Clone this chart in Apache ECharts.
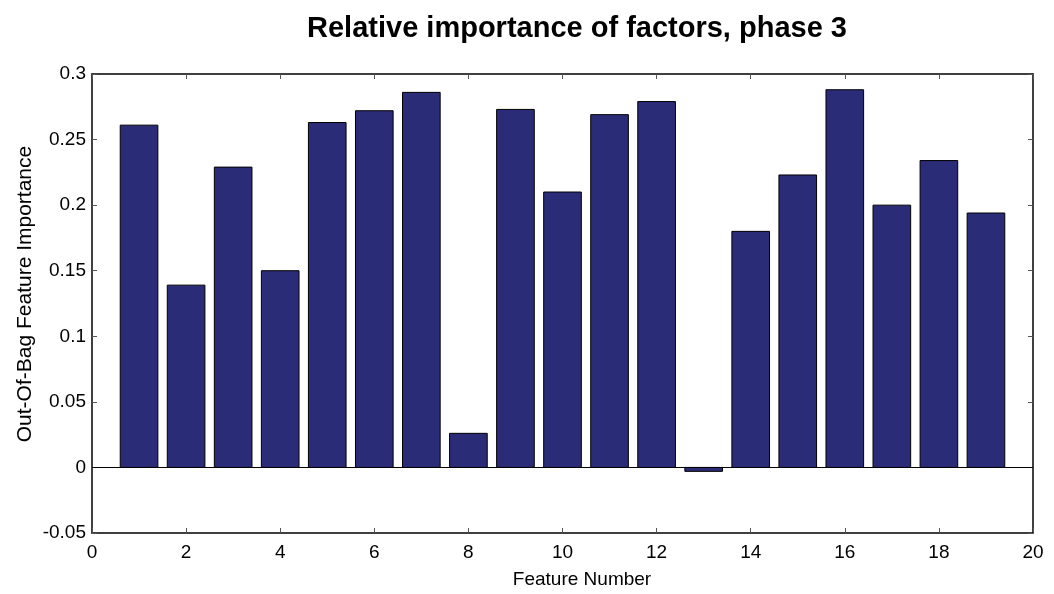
<!DOCTYPE html>
<html>
<head>
<meta charset="utf-8">
<title>Relative importance of factors, phase 3</title>
<script src="https://cdn.jsdelivr.net/npm/echarts@6/dist/echarts.min.js"></script>
<style>
  html, body { margin: 0; padding: 0; background: #fff; }
  #chart { width: 1054px; height: 594px; }
</style>
</head>
<body>
<div id="chart"></div>
<script>
// Feature numbers and their out-of-bag importance scores
const features = [1, 2, 3, 4, 5, 6, 7, 8, 9, 10, 11, 12, 13, 14, 15, 16, 17, 18, 19];
const importance = [0.261, 0.139, 0.229, 0.150, 0.263, 0.272, 0.286, 0.026, 0.273, 0.210,
                    0.269, 0.279, -0.003, 0.180, 0.223, 0.288, 0.200, 0.234, 0.194];

// Axis ranges
const xRange = { min: 0, max: 20, interval: 2 };
const yRange = { min: -0.05, max: 0.3, interval: 0.05 };

const titleText = 'Relative importance of factors, phase 3';
const xName = 'Feature Number';
const yName = 'Out-Of-Bag Feature Importance';

const BAR_WIDTH = 0.8;          // bar width in x-axis units
const BAR_FILL = '#2b2c78';
const FONT = 'Arial, "Liberation Sans", Helvetica, sans-serif';

const chart = echarts.init(document.getElementById('chart'), null, { renderer: 'canvas' });

const tickStyle = { show: true, inside: true, length: 5, lineStyle: { color: '#555', width: 1 } };
const lineStyle = { show: true, onZero: false, lineStyle: { color: '#000', width: 1.5 } };
const fmt = v => String(parseFloat(v.toFixed(2)));

chart.setOption({
  animation: false,
  backgroundColor: '#fff',
  grid: { left: 92, right: 21, top: 74, bottom: 61, containLabel: false },
  graphic: [{
    // chart title
    type: 'text', x: 577, y: 29,
    style: { text: titleText, font: 'bold 29px ' + FONT, fill: '#000',
             textAlign: 'center', textVerticalAlign: 'middle' }
  }, {
    // x-axis title
    type: 'text', x: 582, y: 580,
    style: { text: xName, font: '19px ' + FONT, fill: '#000',
             textAlign: 'center', textVerticalAlign: 'middle' }
  }, {
    // y-axis title, rotated
    type: 'text', x: 25, y: 294, rotation: Math.PI / 2,
    style: { text: yName, font: '21px ' + FONT, fill: '#000',
             textAlign: 'center', textVerticalAlign: 'middle' }
  }],
  xAxis: [{
    type: 'value', position: 'bottom',
    min: xRange.min, max: xRange.max, interval: xRange.interval,
    axisLine: lineStyle, axisTick: tickStyle, splitLine: { show: false },
    axisLabel: { color: '#000', fontSize: 19, fontFamily: FONT, margin: 10, formatter: fmt }
  }, {
    type: 'value', position: 'top',
    min: xRange.min, max: xRange.max, interval: xRange.interval,
    axisLine: lineStyle, axisTick: tickStyle, splitLine: { show: false },
    axisLabel: { show: false }
  }],
  yAxis: [{
    type: 'value', position: 'left',
    min: yRange.min, max: yRange.max, interval: yRange.interval,
    axisLine: lineStyle, axisTick: tickStyle, splitLine: { show: false },
    axisLabel: { color: '#000', fontSize: 19, fontFamily: FONT, margin: 6, formatter: fmt }
  }, {
    type: 'value', position: 'right',
    min: yRange.min, max: yRange.max, interval: yRange.interval,
    axisLine: lineStyle, axisTick: tickStyle, splitLine: { show: false },
    axisLabel: { show: false }
  }],
  series: [{
    type: 'custom',
    xAxisIndex: 0, yAxisIndex: 0,
    data: features.map((f, i) => [f, importance[i]]),
    renderItem(params, api) {
      const x = api.value(0);
      const v = api.value(1);
      const a = api.coord([x - BAR_WIDTH / 2, v]);
      const b = api.coord([x + BAR_WIDTH / 2, 0]);
      return {
        type: 'rect',
        shape: {
          x: a[0], y: Math.min(a[1], b[1]),
          width: b[0] - a[0], height: Math.abs(b[1] - a[1])
        },
        style: { fill: BAR_FILL, stroke: '#000', lineWidth: 1 }
      };
    },
    markLine: {
      silent: true, symbol: 'none', label: { show: false },
      lineStyle: { color: '#000', width: 1, type: 'solid' },
      data: [{ yAxis: 0 }],
      z: 5
    }
  }]
});
</script>
</body>
</html>
